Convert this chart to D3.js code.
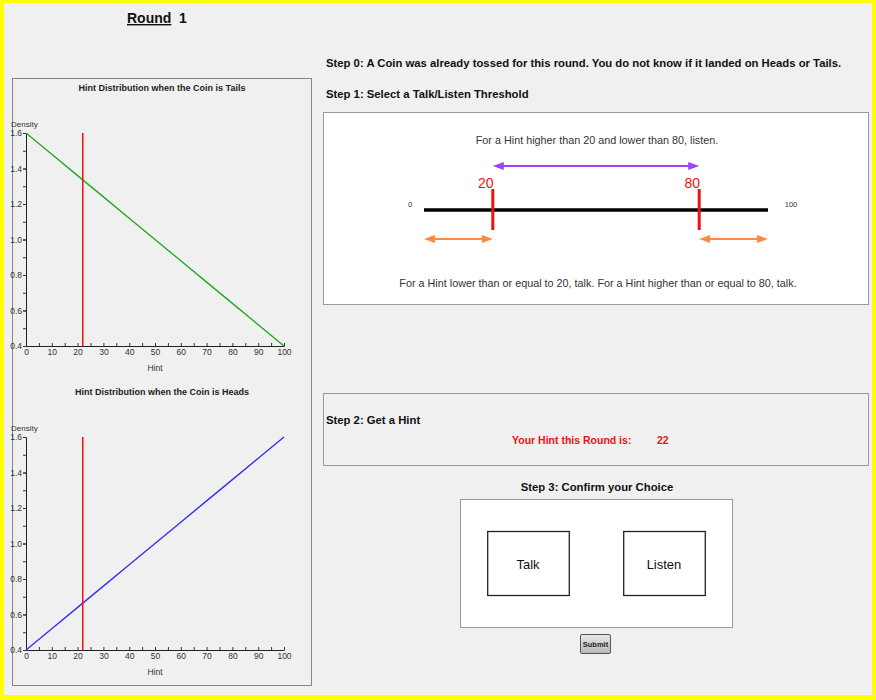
<!DOCTYPE html>
<html>
<head>
<meta charset="utf-8">
<script src="https://cdn.jsdelivr.net/npm/d3@7"></script>
<style>
  body { margin: 0; background: #fff; }
  text { font-family: "Liberation Sans", Arial, sans-serif; }
</style>
</head>
<body>
<script>
// data
const hintX         = [0, 10, 20, 30, 40, 50, 60, 70, 80, 90, 100]
const tailsDensity  = [1.6, 1.48, 1.36, 1.24, 1.12, 1.0, 0.88, 0.76, 0.64, 0.52, 0.4]
const headsDensity  = [0.4, 0.52, 0.64, 0.76, 0.88, 1.0, 1.12, 1.24, 1.36, 1.48, 1.6]
const xTickLabels   = [0, 10, 20, 30, 40, 50, 60, 70, 80, 90, 100]
const xMinorTicks   = [0, 5, 10, 15, 20, 25, 30, 35, 40, 45, 50, 55, 60, 65, 70, 75, 80, 85, 90, 95, 100]
const yTickLabels   = [0.4, 0.6, 0.8, 1.0, 1.2, 1.4, 1.6]
const yMinorTicks   = [0.4, 0.5, 0.6, 0.7, 0.8, 0.9, 1.0, 1.1, 1.2, 1.3, 1.4, 1.5, 1.6]
const roundNumber   = 1
const yourHint      = 22
const thresholds    = [20, 80]
const hintRange     = [0, 100]

const width = 876, height = 700
const FONT = "\"Liberation Sans\", Arial, sans-serif"

const svg = d3.select("body").append("svg")
    .attr("width", width)
    .attr("height", height)

// yellow frame and grey page
svg.append("rect").attr("width", width).attr("height", height).attr("fill", "#ffff00")
svg.append("rect").attr("x", 4).attr("y", 3).attr("width", 868).attr("height", 692).attr("fill", "#f0f0f0")

// Round header
svg.append("text")
    .attr("x", 127).attr("y", 23)
    .attr("font-size", "14px").attr("font-weight", "bold")
    .attr("text-decoration", "underline")
    .attr("fill", "#111")
    .text("Round")
svg.append("text")
    .attr("x", 179).attr("y", 23)
    .attr("font-size", "14px").attr("font-weight", "bold")
    .attr("fill", "#111")
    .text(roundNumber)

// left panel
svg.append("rect")
    .attr("x", 12.5).attr("y", 78.5).attr("width", 299).attr("height", 607)
    .attr("fill", "none").attr("stroke", "#888")

const x = d3.scaleLinear().domain(hintRange).range([26, 284])

function densityChart(title, values, color, top) {
    const y = d3.scaleLinear().domain([0.4, 1.6]).range([top + 213, top])
    const g = svg.append("g")

    g.append("text")
        .attr("x", 162).attr("y", top - 42)
        .attr("text-anchor", "middle")
        .attr("font-size", "9px").attr("font-weight", "bold")
        .attr("fill", "#222")
        .text(title)

    g.append("text")
        .attr("x", 11).attr("y", top - 6)
        .attr("font-size", "8px").attr("fill", "#333")
        .text("Density")

    // minor ticks first, then labelled ticks on top
    g.append("g")
        .attr("transform", `translate(0,${y(0.4)})`)
        .call(d3.axisBottom(x).tickValues(xMinorTicks).tickSize(3).tickFormat(""))
        .call(a => a.select(".domain").remove())
        .selectAll("line").attr("transform", "translate(0,-3)").attr("stroke", "#333")

    g.append("g")
        .attr("transform", `translate(0,${y(0.4)})`)
        .call(d3.axisBottom(x).tickValues(xTickLabels).tickSize(0).tickPadding(3))
        .call(a => a.select(".domain").attr("stroke", "#222"))
        .call(a => a.selectAll("text").attr("font-size", "8.5px").attr("fill", "#333")
            .attr("font-family", FONT))

    g.append("g")
        .attr("transform", `translate(${x(0)},0)`)
        .call(d3.axisLeft(y).tickValues(yMinorTicks).tickSize(3).tickFormat(""))
        .call(a => a.select(".domain").remove())
        .selectAll("line").attr("stroke", "#333")

    g.append("g")
        .attr("transform", `translate(${x(0)},0)`)
        .call(d3.axisLeft(y).tickValues(yTickLabels).tickSize(3).tickPadding(1).tickFormat(d3.format(".1f")))
        .call(a => a.select(".domain").attr("stroke", "#222"))
        .call(a => a.selectAll("line").attr("stroke", "#333"))
        .call(a => a.selectAll("text").attr("font-size", "8.5px").attr("fill", "#333")
            .attr("font-family", FONT))

    g.append("text")
        .attr("x", x(50)).attr("y", y(0.4) + 25)
        .attr("text-anchor", "middle")
        .attr("font-size", "8.5px").attr("fill", "#333")
        .text("Hint")

    const line = d3.line().x((d, i) => x(hintX[i])).y(d => y(d))
    g.append("path")
        .datum(values)
        .attr("d", line)
        .attr("fill", "none")
        .attr("stroke", color)
        .attr("stroke-width", 1.4)

    g.append("line")
        .attr("x1", x(yourHint)).attr("x2", x(yourHint))
        .attr("y1", y(1.6)).attr("y2", y(0.4))
        .attr("stroke", "#ee1111").attr("stroke-width", 1.5)
}

densityChart("Hint Distribution when the Coin is Tails", tailsDensity, "#22aa22", 133)
densityChart("Hint Distribution when the Coin is Heads", headsDensity, "#3333ee", 437)

// right side, steps
const stepText = (t, xx, yy, anchor) => svg.append("text")
    .attr("x", xx).attr("y", yy)
    .attr("text-anchor", anchor || "start")
    .attr("font-size", "11.3px").attr("font-weight", "bold")
    .attr("fill", "#111")
    .text(t)

stepText("Step 0: A Coin was already tossed for this round. You do not know if it landed on Heads or Tails.", 326, 67)
stepText("Step 1: Select a Talk/Listen Threshold", 326, 98)

// threshold box
svg.append("rect")
    .attr("x", 323.5).attr("y", 112.5).attr("width", 545).attr("height", 192)
    .attr("fill", "#fff").attr("stroke", "#999")

const thr = d3.scaleLinear().domain(hintRange).range([424, 768])
const [lo, hi] = thresholds

svg.append("text")
    .attr("x", 597).attr("y", 144)
    .attr("text-anchor", "middle")
    .attr("font-size", "10.8px").attr("fill", "#333")
    .text(`For a Hint higher than ${lo} and lower than ${hi}, listen.`)

svg.append("text")
    .attr("x", 598).attr("y", 287)
    .attr("text-anchor", "middle")
    .attr("font-size", "10.8px").attr("fill", "#333")
    .text(`For a Hint lower than or equal to ${lo}, talk. For a Hint higher than or equal to ${hi}, talk.`)

function arrow(x1, x2, yy, color) {
    const head = 11, half = 4
    svg.append("line")
        .attr("x1", x1 + head - 1).attr("x2", x2 - head + 1)
        .attr("y1", yy).attr("y2", yy)
        .attr("stroke", color).attr("stroke-width", 2)
    svg.append("path")
        .attr("d", `M${x1},${yy} L${x1 + head},${yy - half} L${x1 + head},${yy + half} Z`)
        .attr("fill", color)
    svg.append("path")
        .attr("d", `M${x2},${yy} L${x2 - head},${yy - half} L${x2 - head},${yy + half} Z`)
        .attr("fill", color)
}

arrow(thr(lo), thr(hi), 166, "#9944ff")
arrow(thr(hintRange[0]), thr(lo), 239, "#ff8844")
arrow(thr(hi), thr(hintRange[1]), 239, "#ff8844")

svg.append("line")
    .attr("x1", thr(hintRange[0])).attr("x2", thr(hintRange[1]))
    .attr("y1", 210).attr("y2", 210)
    .attr("stroke", "#000").attr("stroke-width", 3.5)

svg.selectAll(".thr")
    .data(thresholds)
    .enter()
    .append("line")
        .attr("x1", d => thr(d)).attr("x2", d => thr(d))
        .attr("y1", 189).attr("y2", 230)
        .attr("stroke", "#ee1111").attr("stroke-width", 3)

svg.selectAll(".thrLabel")
    .data(thresholds)
    .enter()
    .append("text")
        .attr("x", d => thr(d) - 7).attr("y", 188)
        .attr("text-anchor", "middle")
        .attr("font-size", "14px").attr("fill", "#ee1111")
        .text(d => d)

svg.append("text")
    .attr("x", 410).attr("y", 207)
    .attr("text-anchor", "middle")
    .attr("font-size", "7.5px").attr("fill", "#333")
    .text(hintRange[0])
svg.append("text")
    .attr("x", 791).attr("y", 207)
    .attr("text-anchor", "middle")
    .attr("font-size", "7.5px").attr("fill", "#333")
    .text(hintRange[1])

// step 2
svg.append("rect")
    .attr("x", 323.5).attr("y", 393.5).attr("width", 545).attr("height", 72)
    .attr("fill", "none").attr("stroke", "#999")
stepText("Step 2: Get a Hint", 326, 424)
svg.append("text")
    .attr("x", 512).attr("y", 444)
    .attr("font-size", "10.5px").attr("font-weight", "bold").attr("fill", "#ee1111")
    .text("Your Hint this Round is:")
svg.append("text")
    .attr("x", 657).attr("y", 444)
    .attr("font-size", "10.5px").attr("font-weight", "bold").attr("fill", "#ee1111")
    .text(yourHint)

// step 3
stepText("Step 3: Confirm your Choice", 597, 491, "middle")
svg.append("rect")
    .attr("x", 460.5).attr("y", 499.5).attr("width", 272).attr("height", 128)
    .attr("fill", "#fff").attr("stroke", "#999")

const choices = ["Talk", "Listen"]
const choiceX = d3.scaleBand().domain(choices).range([460, 732]).paddingInner(0.4).paddingOuter(0.2)

const btn = svg.selectAll(".choice")
    .data(choices)
    .enter()
    .append("g")
btn.append("rect")
    .attr("x", d => choiceX(d) + 0.5).attr("y", 531.5)
    .attr("width", choiceX.bandwidth()).attr("height", 64)
    .attr("fill", "#fff").attr("stroke", "#222").attr("stroke-width", 1.3)
btn.append("text")
    .attr("x", d => choiceX(d) + choiceX.bandwidth() / 2).attr("y", 569)
    .attr("text-anchor", "middle")
    .attr("font-size", "13px").attr("fill", "#111")
    .text(d => d)

// submit button
const grad = svg.append("defs").append("linearGradient")
    .attr("id", "btn").attr("x1", 0).attr("x2", 0).attr("y1", 0).attr("y2", 1)
grad.append("stop").attr("offset", "0%").attr("stop-color", "#e8e8e8")
grad.append("stop").attr("offset", "100%").attr("stop-color", "#b8b8b8")
svg.append("rect")
    .attr("x", 580.5).attr("y", 634.5).attr("width", 30).attr("height", 19)
    .attr("rx", 1.5)
    .attr("fill", "url(#btn)").attr("stroke", "#555")
svg.append("text")
    .attr("x", 595.5).attr("y", 647)
    .attr("text-anchor", "middle")
    .attr("font-size", "7.5px").attr("font-weight", "bold").attr("fill", "#222")
    .text("Submit")
</script>
</body>
</html>
